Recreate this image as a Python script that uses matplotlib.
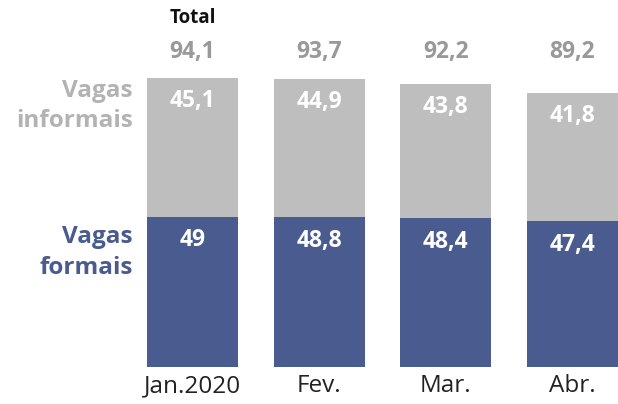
import numpy as np
import matplotlib
matplotlib.use('Agg')
import matplotlib.pyplot as plt

plt.rcParams['font.family'] = ['Open Sans', 'DejaVu Sans']

months = ['Jan.2020', 'Fev.', 'Mar.', 'Abr.']
formais = [49, 48.8, 48.4, 47.4]
informais = [45.1, 44.9, 43.8, 41.8]
totais = [94.1, 93.7, 92.2, 89.2]

blue = '#4a5b8f'
gray = '#bebebe'
total_gray = '#999999'
label_gray = '#b3b3b3'

fig = plt.figure(figsize=(6.18, 4.04), dpi=100)
ax = fig.add_axes([0, 0, 1, 1])

x = np.arange(len(months))
ax.bar(x, formais, width=0.72, color=blue)
ax.bar(x, informais, width=0.72, bottom=formais, color=gray)

def fmt(v):
    s = f'{v:.1f}'.replace('.', ',')
    return s[:-2] if s.endswith(',0') else s

for i in range(len(months)):
    # rotulos dentro das barras
    ax.text(x[i], formais[i] - 7.7, fmt(formais[i]), ha='center', va='center',
            color='white', fontsize=16.5, fontweight='bold')
    ax.text(x[i], formais[i] + informais[i] - 7.5, fmt(informais[i]), ha='center',
            va='center', color='white', fontsize=16.5, fontweight='bold')
    ax.text(x[i], 102.6, fmt(totais[i]), ha='center', va='center',
            color=total_gray, fontsize=16.5, fontweight='bold')
    ax.text(x[i], -6.2, months[i], ha='center', va='center', color='#222222',
            fontsize=17.5)

ax.text(x[0], 113.8, 'Total', ha='center', va='center', color='#111111',
        fontsize=13.5, fontweight='bold')
ax.text(-0.47, 85.0, 'Vagas\ninformais', ha='right', va='center', color=label_gray,
        fontsize=17.5, fontweight='bold', linespacing=1.35)
ax.text(-0.47, 37.3, 'Vagas\nformais', ha='right', va='center', color=blue,
        fontsize=17.5, fontweight='bold', linespacing=1.35)

ax.set_xlim(-1.52, 3.359)
ax.set_ylim(-12.05, 119.5)
ax.axis('off')

fig.savefig('out.png', dpi=100)
